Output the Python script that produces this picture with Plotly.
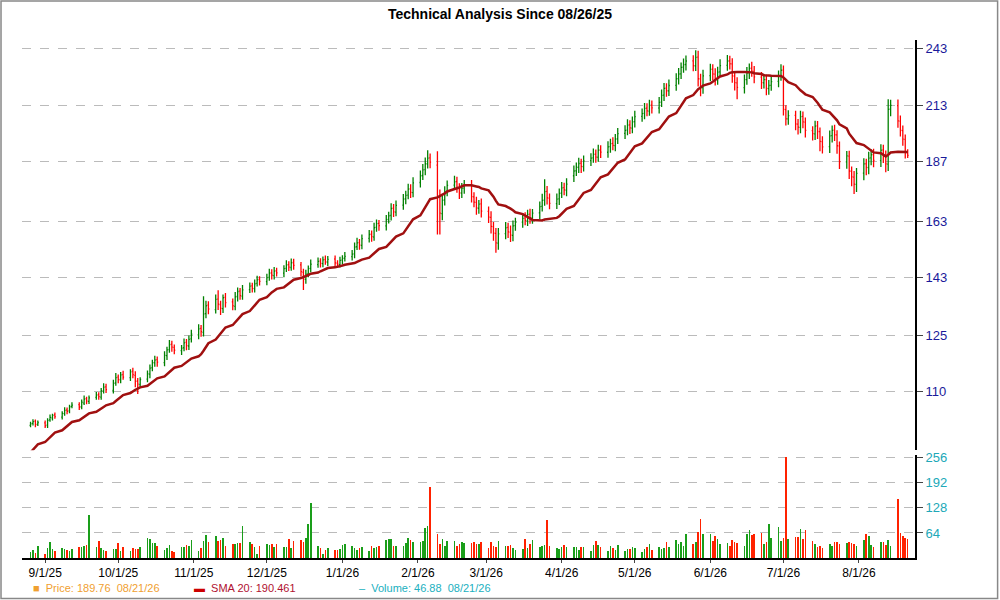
import pandas as pd
import plotly.graph_objects as go
from plotly.subplots import make_subplots

# Closes of the 19 sessions before the chart window (only feed the SMA 20)
pre_closes = [89.5, 90.2, 90.8, 91.0, 91.9, 92.5, 93.1, 93.0, 94.2, 95.0,
              95.6, 96.3, 97.0, 97.8, 98.5, 99.1, 99.8, 100.6, 101.2]

# Daily bars, one row per week (first row starts Tue 8/26/25)
closes = [
    102, 102.5, 101.8, 102.3,
    101.5, 102.8, 103.5, 104.0, 103.7,
    104.5, 105.2, 105.0, 106.1, 106.5,
    106.0, 107.2, 108.0, 107.5, 108.3,
    109.0, 108.6, 110.1, 111.0, 110.4,
    112.0, 113.5, 113.0, 114.2, 113.6,
    115.0, 114.3, 112.5, 111.8, 113.0,
    114.5, 116.0, 117.5, 118.2, 117.6,
    119.5, 121.0, 122.5, 121.8, 120.9,
    121.5, 123.0, 122.2, 124.0, 125.5,
    127.0, 126.2, 131.5, 134.0, 133.0,
    136.0, 134.5, 133.2, 136.5, 135.0,
    134.0, 136.8, 138.5, 137.2, 139.0,
    140.2, 139.5, 141.0, 142.3, 141.8,
    143.0, 144.5, 143.8, 145.2, 144.6,
    146.0, 147.3, 146.5, 148.0, 147.1,
    145.0, 142.5, 144.2, 146.0, 147.5,
    148.5, 147.8, 149.0, 148.3, 149.2,
    148.0, 147.5, 148.8, 149.5, 150.2,
    151.0, 153.5, 155.0, 154.2, 156.5,
    158.0, 157.2, 160.5, 162.0, 161.3,
    163.5, 165.0, 167.8, 166.5, 169.0,
    171.5, 173.0, 175.5, 174.2, 178.0,
    181.0, 183.5, 186.0, 188.5, 186.8,
    172.5, 166.0, 171.0, 174.5, 177.0,
    178.5, 176.2, 174.0, 175.8, 177.3,
    172.5, 170.3, 168.0, 169.5, 166.8,
    164.5, 161.0, 158.5, 155.0, 158.2,
    160.5, 159.0, 157.8, 161.2, 162.5,
    164.0, 163.2, 165.5, 164.3, 166.0,
    168.5, 171.0, 174.5, 172.0, 169.8,
    171.5, 173.8, 176.0, 175.2, 177.5,
    183.0, 184.5, 186.2, 185.0, 187.3,
    188.5, 190.2, 189.0, 192.0, 191.2,
    193.5, 195.0, 194.2, 197.0, 199.5,
    201.0, 203.5, 202.2, 205.0, 207.5,
    209.0, 211.5, 210.3, 213.0, 211.8,
    214.5, 218.0, 221.5, 220.3, 223.0,
    226.5, 229.0, 232.5, 234.0, 236.0,
    233.5, 238.0, 226.5, 222.0, 228.0,
    231.5, 229.0, 226.5, 230.0, 233.5,
    236.0, 234.5, 228.0, 224.5, 222.0,
    226.0, 229.5, 232.0, 230.5, 227.5,
    224.5, 226.0, 221.5, 223.0, 225.0,
    228.0, 231.0, 211.0, 206.5, 208.0,
    204.0, 202.5, 207.5, 205.0, 201.0,
    199.5, 203.0, 200.5, 196.0, 193.5,
    198.5, 201.0, 199.0, 194.0, 187.0,
    189.5, 183.0, 180.5, 177.5, 182.0,
    186.0, 184.5, 188.5, 190.0, 187.5,
    192.0, 189.5, 186.0, 211.0, 213.0,
    205.5, 201.0, 197.0, 191.0, 189.76,
]

opens = [
    101.6, 102.1, 102.6, 101.9,
    102.2, 101.7, 102.9, 103.4, 104.1,
    103.6, 104.4, 105.3, 105.1, 106.2,
    106.6, 106.1, 107.0, 108.1, 107.4,
    108.4, 109.1, 108.5, 110.0, 111.1,
    110.2, 112.1, 113.6, 112.9, 114.3,
    113.5, 115.2, 114.1, 112.6, 111.7,
    113.1, 114.4, 116.1, 117.4, 118.3,
    117.5, 119.4, 121.1, 122.6, 121.7,
    120.8, 121.6, 123.1, 122.1, 124.1,
    125.3, 127.2, 126.0, 131.6, 134.2,
    132.8, 136.1, 134.4, 133.1, 136.6,
    135.2, 133.8, 136.9, 138.6, 137.0,
    139.1, 140.3, 139.4, 141.1, 142.4,
    141.7, 143.1, 144.6, 143.7, 145.3,
    144.5, 146.1, 147.4, 146.4, 148.1,
    147.3, 144.8, 142.4, 144.3, 146.1,
    147.4, 148.6, 147.7, 149.1, 148.2,
    149.3, 147.9, 147.4, 148.9, 149.6,
    150.1, 151.1, 153.6, 155.1, 154.1,
    156.6, 158.1, 157.1, 160.6, 162.1,
    161.2, 163.6, 165.1, 167.9, 166.4,
    169.1, 171.6, 173.1, 175.6, 174.1,
    178.2, 181.1, 183.6, 186.1, 188.6,
    185.5, 172.3, 165.8, 171.2, 174.6,
    177.1, 178.6, 176.1, 173.9, 175.9,
    177.2, 172.4, 170.2, 167.9, 169.6,
    166.7, 164.4, 160.9, 158.4, 154.9,
    158.3, 160.6, 158.9, 157.7, 161.3,
    162.6, 164.1, 163.1, 165.6, 164.2,
    166.1, 168.6, 171.1, 174.6, 171.9,
    169.7, 171.6, 173.9, 176.1, 175.1,
    181.0, 183.1, 184.6, 186.3, 184.9,
    187.4, 188.6, 190.3, 188.9, 192.1,
    191.1, 193.6, 195.1, 194.1, 197.1,
    199.6, 201.1, 203.6, 202.1, 205.1,
    207.6, 209.1, 211.6, 210.2, 213.1,
    211.7, 214.6, 218.1, 221.6, 220.2,
    223.1, 226.6, 229.1, 232.6, 234.1,
    236.1, 233.4, 238.1, 226.4, 221.9,
    228.1, 231.6, 228.9, 226.4, 230.1,
    233.6, 236.1, 234.4, 227.9, 224.4,
    221.9, 226.1, 229.6, 232.1, 230.4,
    227.4, 224.4, 226.1, 221.4, 223.1,
    225.1, 228.1, 231.1, 210.9, 206.4,
    208.1, 203.9, 202.4, 207.6, 204.9,
    200.9, 199.4, 203.1, 200.4, 195.9,
    193.6, 198.6, 201.1, 198.9, 193.9,
    186.9, 189.4, 182.9, 180.4, 177.4,
    182.1, 186.1, 184.4, 188.6, 190.1,
    187.4, 192.1, 189.4, 185.9, 211.1,
    212.9, 205.4, 200.9, 196.9, 190.9,
]

# distance of the high above the bar body, and of the low below it
hi_wick = [
    .5, .6, .4, .5,
    .6, .5, .7, .4, .6,
    .5, .8, .6, .5, .7,
    .6, .7, .9, .5, .6,
    .8, .6, .7, 1.0, .8,
    .9, 1.2, .7, .8, 1.0,
    .7, .9, 1.1, .8, .6,
    .9, 1.0, .8, 1.2, .9,
    1.1, .9, 1.3, 1.0, .8,
    .9, 1.2, 1.0, 1.1, 1.3,
    1.4, 1.0, 5.5, 1.6, 1.2,
    1.5, 2.8, 1.2, 1.0, 1.4,
    1.1, 1.5, 1.3, 1.0, 1.6,
    1.2, 1.0, 1.4, 1.3, 1.1,
    1.3, 1.5, 1.2, 1.4, 1.0,
    1.2, 1.6, 1.1, 1.5, 1.3,
    1.0, 1.2, 1.4, 1.1, 1.6,
    1.3, 1.0, 1.2, 1.4, 1.1,
    1.2, 1.0, 1.3, 1.1, 1.5,
    1.4, 1.6, 1.8, 1.3, 1.5,
    1.7, 1.4, 1.9, 1.6, 1.3,
    1.8, 1.5, 2.0, 1.7, 1.9,
    2.0, 1.8, 2.2, 1.9, 2.4,
    2.2, 2.5, 2.8, 3.5, 2.0,
    6.0, 3.0, 2.5, 2.2, 2.0,
    2.5, 2.0, 1.8, 2.2, 1.9,
    2.0, 1.8, 2.2, 1.6, 2.1,
    1.9, 2.3, 1.7, 2.0, 2.2,
    2.1, 1.8, 2.4, 2.0, 1.7,
    1.9, 2.2, 1.8, 2.1, 1.6,
    2.0, 2.6, 5.0, 2.2, 1.8,
    2.2, 1.9, 2.4, 2.0, 2.5,
    2.3, 2.1, 2.5, 2.0, 2.4,
    2.2, 2.6, 2.0, 2.4, 2.1,
    2.5, 2.2, 2.7, 2.3, 2.6,
    2.4, 2.8, 2.2, 2.6, 2.9,
    2.5, 2.7, 2.4, 2.8, 2.3,
    2.6, 3.0, 2.8, 2.5, 3.1,
    2.9, 3.2, 2.7, 3.4, 3.0,
    3.1, 4.0, 3.5, 2.8, 3.3,
    3.0, 2.7, 3.2, 2.9, 3.4,
    3.3, 2.8, 3.1, 2.6, 2.9,
    2.8, 3.2, 2.6, 3.5, 2.9,
    2.7, 3.0, 2.5, 2.8, 3.2,
    2.9, 3.3, 2.4, 2.2, 2.6,
    2.3, 2.5, 2.8, 2.4, 2.2,
    2.1, 2.6, 2.3, 2.0, 2.4,
    2.5, 2.3, 2.6, 2.2, 2.0,
    2.2, 2.4, 2.0, 2.6, 2.3,
    2.5, 2.2, 2.8, 2.4, 2.6,
    2.7, 2.3, 2.5, 5.0, 2.8,
    3.0, 2.6, 2.4, 2.2, 1.5,
]

lo_wick = [
    .4, .5, .6, .4,
    .5, .7, .4, .6, .5,
    .6, .5, .7, .6, .5,
    .7, .6, .5, .8, .6,
    .6, .8, .7, .6, .9,
    .8, .7, 1.0, .9, .7,
    .9, 1.0, 1.5, 2.5, .8,
    .8, 1.1, .9, 1.0, 1.2,
    1.0, 1.2, .9, 1.3, 1.1,
    1.2, 1.0, 1.3, 1.1, 1.0,
    1.3, 1.5, 1.2, 1.4, 1.6,
    1.2, 1.8, 2.0, 1.3, 1.5,
    1.4, 1.2, 1.6, 1.3, 1.1,
    1.1, 1.3, 1.2, 1.0, 1.4,
    1.2, 1.1, 1.4, 1.3, 1.2,
    1.4, 1.2, 1.3, 1.1, 1.5,
    1.6, 3.5, 1.4, 1.2, 1.3,
    1.1, 1.4, 1.2, 1.0, 1.3,
    1.3, 1.2, 1.0, 1.4, 1.2,
    1.3, 1.5, 1.2, 1.7, 1.4,
    1.5, 1.8, 1.4, 1.6, 1.9,
    1.7, 1.5, 1.9, 2.0, 1.6,
    1.8, 2.1, 1.7, 2.3, 1.9,
    2.1, 1.9, 2.4, 2.0, 2.6,
    14.5, 8.0, 2.5, 2.2, 2.0,
    1.8, 2.2, 2.5, 2.0, 2.3,
    2.4, 2.0, 2.6, 2.1, 2.5,
    2.2, 2.6, 2.8, 3.5, 2.4,
    2.0, 2.3, 2.5, 2.1, 1.9,
    2.1, 1.8, 2.0, 2.3, 2.2,
    2.4, 2.0, 2.2, 2.6, 2.3,
    2.1, 2.4, 2.0, 2.2, 2.5,
    2.6, 2.2, 2.4, 2.8, 2.1,
    2.3, 2.1, 2.5, 2.0, 2.6,
    2.4, 2.7, 2.2, 2.5, 2.3,
    2.6, 2.3, 2.8, 2.4, 2.7,
    2.5, 2.9, 2.6, 2.3, 2.8,
    2.7, 2.4, 2.9, 3.0, 2.6,
    2.8, 3.1, 2.7, 2.9, 3.2,
    3.0, 2.8, 4.0, 4.5, 3.1,
    2.9, 3.3, 3.5, 3.0, 2.7,
    2.8, 3.1, 3.6, 4.0, 6.0,
    3.0, 2.7, 3.2, 2.9, 3.4,
    3.3, 2.9, 3.5, 3.1, 2.8,
    3.0, 2.6, 3.0, 3.2, 2.8,
    2.9, 3.4, 2.7, 3.0, 3.3,
    3.1, 2.8, 3.5, 4.5, 3.0,
    2.8, 3.1, 2.9, 3.6, 3.2,
    2.9, 3.4, 3.8, 4.0, 3.1,
    3.0, 3.3, 2.8, 3.2, 2.9,
    2.7, 3.1, 3.5, 2.9, 3.4,
    3.2, 2.8, 3.0, 2.6, 1.2,
]

volumes = [
    15, 20, 12, 30,
    8, 25, 40, 22, 18,
    25, 22, 20, 18, 22,
    28, 26, 30, 32, 110,
    28, 42, 25, 20, 18,
    22, 22, 38, 18, 28,
    18, 24, 22, 22, 28,
    50, 48, 38, 38, 30,
    20, 25, 32, 18, 15,
    28, 28, 33, 30, 45,
    18, 25, 42, 58, 40,
    55, 42, 45, 50, 30,
    35, 35, 36, 38, 80,
    40, 35, 28, 8, 30,
    35, 32, 35, 28, 35,
    28, 28, 48, 25, 42,
    45, 40, 50, 85, 140,
    30, 25, 10, 20, 25,
    20, 20, 22, 32, 35,
    30, 25, 20, 25, 28,
    18, 30, 25, 28, 30,
    45, 47, 48, 30, 30,
    30, 38, 50, 45, 40,
    40, 42, 75, 80, 180,
    60, 35, 48, 30, 42,
    42, 30, 35, 40, 38,
    36, 40, 35, 35, 40,
    25, 40, 30, 28, 42,
    30, 30, 32, 25, 20,
    22, 48, 25, 35, 45,
    28, 30, 33, 95, 30,
    25, 22, 28, 32, 28,
    28, 28, 20, 28, 28,
    18, 32, 42, 32, 28,
    18, 30, 25, 20, 32,
    18, 22, 22, 28, 25,
    15, 22, 28, 35, 20,
    28, 22, 25, 40, 28,
    45, 35, 40, 30, 60,
    35, 40, 65, 98, 60,
    60, 42, 55, 48, 35,
    38, 30, 45, 40, 36,
    30, 60, 70, 58, 60,
    62, 35, 40, 85, 50,
    78, 42, 50, 256, 48,
    52, 52, 72, 48, 70,
    42, 35, 28, 30, 25,
    35, 30, 40, 40, 35,
    38, 40, 38, 35, 30,
    45, 60, 55, 32, 28,
    40, 40, 32, 45, 30,
    150, 62, 55, 50, 46.88,
]

price_ticks = [110, 125, 143, 163, 187, 213, 243]
volume_ticks = [64, 128, 192, 256]
month_ticks = ['2025-09-01', '2025-10-01', '2025-11-01', '2025-12-01', '2026-01-01', '2026-02-01',
               '2026-03-01', '2026-04-01', '2026-05-01', '2026-06-01', '2026-07-01', '2026-08-01']
month_labels = ['9/1/25', '10/1/25', '11/1/25', '12/1/25', '1/1/26', '2/1/26',
                '3/1/26', '4/1/26', '5/1/26', '6/1/26', '7/1/26', '8/1/26']

df = pd.DataFrame({'open': opens, 'close': closes, 'hw': hi_wick, 'lw': lo_wick, 'volume': volumes})
df['date'] = pd.bdate_range('2025-08-26', periods=len(df))
df['high'] = df[['open', 'close']].max(axis=1) + df['hw']
df['low'] = df[['open', 'close']].min(axis=1) - df['lw']
all_closes = pd.Series(pre_closes + closes)
df['sma'] = all_closes.rolling(20).mean().iloc[len(pre_closes):].values
bar_colors = ['#1a9e1a' if c >= o else '#ff2200' for o, c in zip(df['open'], df['close'])]

fig = make_subplots(rows=2, cols=1, shared_xaxes=True, vertical_spacing=0.01, row_heights=[0.8, 0.2])

fig.add_trace(go.Ohlc(
    x=df['date'], open=df['open'], high=df['high'], low=df['low'], close=df['close'],
    increasing=dict(line=dict(color='#008000', width=1.3)),
    decreasing=dict(line=dict(color='#ff0000', width=1.3)),
    tickwidth=0.4, showlegend=False
), row=1, col=1)

fig.add_trace(go.Scatter(
    x=df['date'], y=df['sma'], mode='lines',
    line=dict(color='#a01010', width=2.5), showlegend=False
), row=1, col=1)

fig.add_trace(go.Bar(
    x=df['date'], y=df['volume'], marker=dict(color=bar_colors, line=dict(width=0)),
    width=0.25 * 86400000, showlegend=False
), row=2, col=1)

fig.update_layout(
    width=1000, height=600,
    margin=dict(l=22, r=85, t=40, b=42),
    paper_bgcolor='white', plot_bgcolor='white',
    font=dict(family='Liberation Sans, Arial', size=12, color='black'),
    title=dict(text='<b>Technical Analysis Since 08/26/25</b>', x=0.5, y=0.985, font=dict(size=14)),
    bargap=0,
    xaxis_rangeslider_visible=False,
)

x_range = ['2025-08-22 12:00', '2026-08-24']
fig.update_xaxes(range=x_range, showgrid=False, tickvals=month_ticks, ticktext=month_labels,
                 ticks='outside', ticklen=3, showline=False, tickfont=dict(size=12))
fig.update_xaxes(showticklabels=False, ticks='', row=1, col=1)
fig.update_xaxes(showline=True, linecolor='black', linewidth=2, row=2, col=1)

fig.update_yaxes(type='log', range=[1.982, 2.394], side='right', tickvals=price_ticks,
                 showgrid=True, gridcolor='#bbbbbb', griddash='dash', gridwidth=1,
                 showline=True, linecolor='black', linewidth=2, ticks='outside', ticklen=6,
                 tickfont=dict(color='#1a1a9a', size=13), zeroline=False, row=1, col=1)
fig.update_yaxes(range=[0, 262], side='right', tickvals=volume_ticks,
                 showgrid=True, gridcolor='#bbbbbb', griddash='dash', gridwidth=1,
                 showline=True, linecolor='black', linewidth=2, ticks='outside', ticklen=6,
                 tickfont=dict(color='#20a8b8', size=13), zeroline=False, row=2, col=1)

# figure border
fig.add_shape(type='rect', xref='paper', yref='paper', x0=-0.0235, x1=1.0925, y0=-0.078, y1=1.0755,
              line=dict(color='#888888', width=1.5))

# legend line at the bottom
legend_items = [
    (0.01, '<span style="color:#f0a030">■</span>  Price: 189.76  08/21/26', '#f0a030'),
    (0.19, '<span style="color:#cc0000">▬</span>  SMA 20: 190.461', '#b01030'),
    (0.375, '<span style="color:#20b0c0">–</span>  Volume: 46.88  08/21/26', '#20b0c0'),
]
for xpos, text, color in legend_items:
    fig.add_annotation(x=xpos, y=-0.057, xref='paper', yref='paper', text=text, showarrow=False,
                       xanchor='left', yanchor='middle', font=dict(size=11, color=color))

fig.write_html("out.html", config={'displayModeBar': False},
               post_script="document.body.style.margin='0';")
